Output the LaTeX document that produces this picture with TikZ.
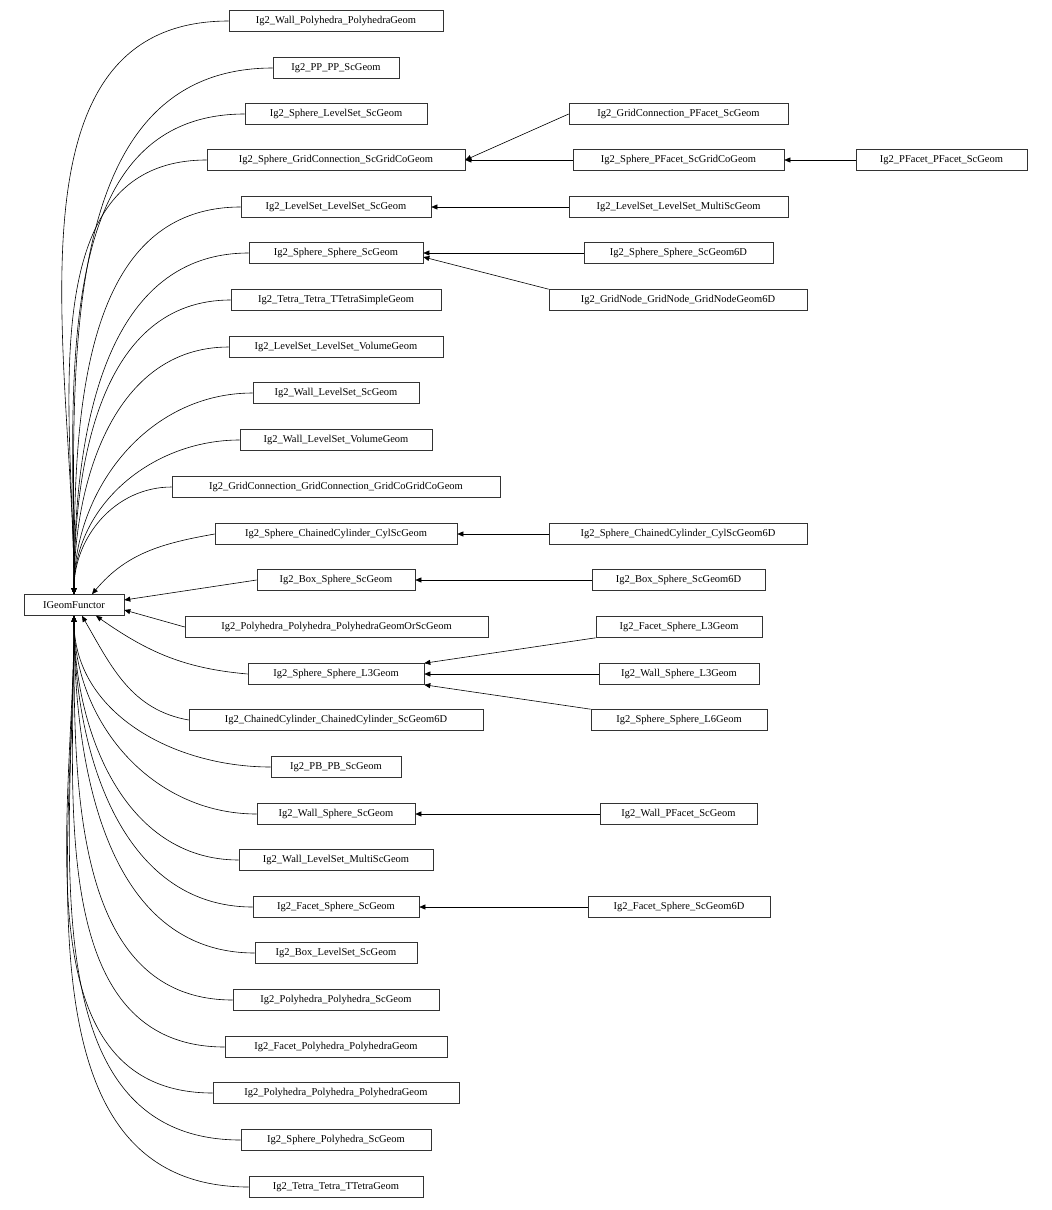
\documentclass[tikz,border=0pt]{standalone}
\usepackage{fontspec}
\setmainfont{Liberation Serif}
\usetikzlibrary{arrows.meta}
\tikzset{bx/.style={draw=black!80,line width=0.6pt,inner sep=0pt,minimum height=21pt,font=\fontsize{10.5}{12}\selectfont},
arr/.style={line width=0.6pt,{Triangle[length=6pt,width=5pt]}-}}
\newcommand{\bx}[5]{\node[bx,minimum width=#3pt-#2pt] (#1) at ({(#2+#3)/2*1pt},{-#4*1pt}) {#5};}
\begin{document}
\begin{tikzpicture}[x=1pt,y=1pt]
\useasboundingbox (0,0) rectangle (1052,-1210);
\bx{base}{24}{124}{605}{IGeomFunctor}
\bx{a1}{229}{443}{21}{Ig2\_Wall\_Polyhedra\_PolyhedraGeom}
\bx{a2}{273}{399}{68}{Ig2\_PP\_PP\_ScGeom}
\bx{a3}{245}{427}{114}{Ig2\_Sphere\_LevelSet\_ScGeom}
\bx{a4}{207}{465}{160}{Ig2\_Sphere\_GridConnection\_ScGridCoGeom}
\bx{a5}{241}{431}{207}{Ig2\_LevelSet\_LevelSet\_ScGeom}
\bx{a6}{249}{423}{253}{Ig2\_Sphere\_Sphere\_ScGeom}
\bx{a7}{231}{441}{300}{Ig2\_Tetra\_Tetra\_TTetraSimpleGeom}
\bx{a8}{229}{443}{347}{Ig2\_LevelSet\_LevelSet\_VolumeGeom}
\bx{a9}{253}{419}{393}{Ig2\_Wall\_LevelSet\_ScGeom}
\bx{a10}{240}{432}{440}{Ig2\_Wall\_LevelSet\_VolumeGeom}
\bx{a11}{172}{500}{487}{Ig2\_GridConnection\_GridConnection\_GridCoGridCoGeom}
\bx{a12}{215}{457}{534}{Ig2\_Sphere\_ChainedCylinder\_CylScGeom}
\bx{a13}{257}{415}{580}{Ig2\_Box\_Sphere\_ScGeom}
\bx{a14}{185}{488}{627}{Ig2\_Polyhedra\_Polyhedra\_PolyhedraGeomOrScGeom}
\bx{a15}{248}{424}{674}{Ig2\_Sphere\_Sphere\_L3Geom}
\bx{a16}{189}{483}{720}{Ig2\_ChainedCylinder\_ChainedCylinder\_ScGeom6D}
\bx{a17}{271}{401}{767}{Ig2\_PB\_PB\_ScGeom}
\bx{a18}{257}{415}{814}{Ig2\_Wall\_Sphere\_ScGeom}
\bx{a19}{239}{433}{860}{Ig2\_Wall\_LevelSet\_MultiScGeom}
\bx{a20}{253}{419}{907}{Ig2\_Facet\_Sphere\_ScGeom}
\bx{a21}{255}{417}{953}{Ig2\_Box\_LevelSet\_ScGeom}
\bx{a22}{233}{439}{1000}{Ig2\_Polyhedra\_Polyhedra\_ScGeom}
\bx{a23}{225}{447}{1047}{Ig2\_Facet\_Polyhedra\_PolyhedraGeom}
\bx{a24}{213}{459}{1093}{Ig2\_Polyhedra\_Polyhedra\_PolyhedraGeom}
\bx{a25}{241}{431}{1140}{Ig2\_Sphere\_Polyhedra\_ScGeom}
\bx{a26}{249}{423}{1187}{Ig2\_Tetra\_Tetra\_TTetraGeom}
\bx{b1}{569}{788}{114}{Ig2\_GridConnection\_PFacet\_ScGeom}
\bx{b2}{573}{784}{160}{Ig2\_Sphere\_PFacet\_ScGridCoGeom}
\bx{c1}{856}{1027}{160}{Ig2\_PFacet\_PFacet\_ScGeom}
\bx{b3}{569}{788}{207}{Ig2\_LevelSet\_LevelSet\_MultiScGeom}
\bx{b4}{584}{773}{253}{Ig2\_Sphere\_Sphere\_ScGeom6D}
\bx{b5}{549}{807}{300}{Ig2\_GridNode\_GridNode\_GridNodeGeom6D}
\bx{b6}{549}{807}{534}{Ig2\_Sphere\_ChainedCylinder\_CylScGeom6D}
\bx{b7}{592}{765}{580}{Ig2\_Box\_Sphere\_ScGeom6D}
\bx{b8}{596}{762}{627}{Ig2\_Facet\_Sphere\_L3Geom}
\bx{b9}{599}{759}{674}{Ig2\_Wall\_Sphere\_L3Geom}
\bx{b10}{591}{767}{720}{Ig2\_Sphere\_Sphere\_L6Geom}
\bx{b11}{600}{757}{814}{Ig2\_Wall\_PFacet\_ScGeom}
\bx{b12}{588}{770}{907}{Ig2\_Facet\_Sphere\_ScGeom6D}
% to base, upper
\foreach \n in {a1,a2,a3,a4,a5,a6,a7,a8,a9,a10,a11}
  \draw[arr] ([xshift=0pt]base.north) to[out=90,in=180] (\n.west);
\draw[arr] ([xshift=18pt]base.north) to[out=50,in=190] (a12.west);
\draw[arr] ([yshift=5pt]base.east) -- (a13.west);
\draw[arr] ([yshift=-5pt]base.east) -- (a14.west);
\draw[arr] ([xshift=22pt]base.south) to[out=-35,in=175] (a15.west);
\draw[arr] ([xshift=8pt]base.south) to[out=-60,in=170] (a16.west);
\foreach \n in {a17,a18,a19,a20,a21,a22,a23,a24,a25,a26}
  \draw[arr] (base.south) to[out=-90,in=180] (\n.west);
% right column
\draw[arr] (a4.east) -- (b1.west);
\draw[arr] (a4.east) -- (b2.west);
\draw[arr] (b2.east) -- (c1.west);
\draw[arr] (a5.east) -- (b3.west);
\draw[arr] (a6.east) -- (b4.west);
\draw[arr] ([yshift=-4pt]a6.east) -- (b5.north west);
\draw[arr] (a12.east) -- (b6.west);
\draw[arr] (a13.east) -- (b7.west);
\draw[arr] ([yshift=5pt]a15.north east) -- ++(0,0) (a15.north east) -- (b8.south west);
\draw[arr] (a15.east) -- (b9.west);
\draw[arr] (a15.south east) -- (b10.north west);
\draw[arr] (a18.east) -- (b11.west);
\draw[arr] (a20.east) -- (b12.west);
\end{tikzpicture}
\end{document}
